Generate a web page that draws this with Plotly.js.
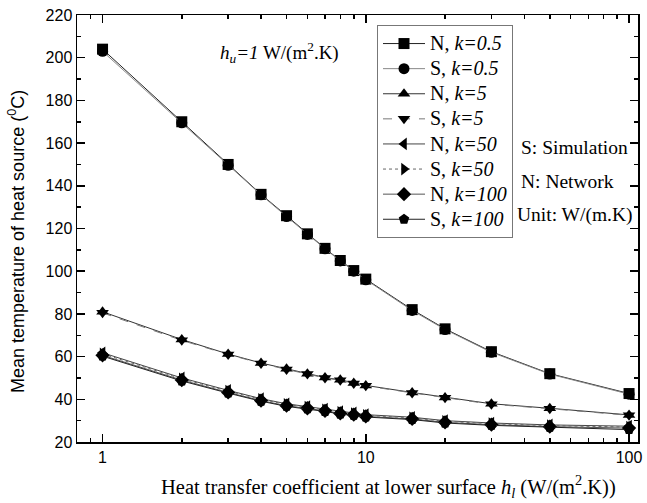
<!DOCTYPE html>
<html><head><meta charset="utf-8">
<script src="https://cdn.plot.ly/plotly-3.0.1.min.js"></script>
<style>html,body{margin:0;padding:0;background:#fff}#chart{width:647px;height:503px}</style>
</head><body><div id="chart"></div>
<script>
const hl = [1,2,3,4,5,6,7,8,9,10,15,20,30,50,100];
const N_k05 = [204,170,150,136,126,117.5,110.7,105,100.3,96.3,82,73,62.3,52,42.7];
const S_k05 = [203,169.5,149.6,135.8,125.6,117.2,110.5,104.8,100,96,81.6,72.7,62,51.8,42.4];
const N_k5 = [81,68,61.2,57,54.3,52,50.2,49.1,47.6,46.5,43.2,40.9,37.9,35.8,32.7];
const S_k5 = [80.5,67.6,61,56.8,54,51.8,50,48.9,47.4,46.3,43,40.7,37.7,35.6,32.5];
const N_k50 = [61.8,50,44.2,40.3,37.9,36.6,35.4,34.2,33.6,32.8,31.6,30,28.9,28,27.4];
const S_k50 = [61.3,49.6,43.8,40,37.6,36.3,35.1,33.9,33.3,32.5,31.3,29.7,28.6,27.7,27.0];
const N_k100 = [60.6,49,43.2,39.4,37,35.8,34.6,33.4,32.8,32,30.8,29.2,28.1,27.2,26.5];
const S_k100 = [60.2,48.6,42.9,39.1,36.7,35.5,34.3,33.1,32.5,31.7,30.5,28.9,27.8,26.9,25.8];
const names = ['N, <i>k=0.5</i>','S, <i>k=0.5</i>','N, <i>k=5</i>','S, <i>k=5</i>','N, <i>k=50</i>','S, <i>k=50</i>','N, <i>k=100</i>','S, <i>k=100</i>'];
const series = [N_k05,S_k05,N_k5,S_k5,N_k50,S_k50,N_k100,S_k100];
const symbols = ['square','circle','triangle-up','triangle-down','triangle-left','triangle-right','diamond','pentagon'];
const lineColors = ['#222','#888','#333','#777','#444','#666','#555','#222'];
const dashes = ['solid','solid','solid','dash','solid','dot','solid','solid'];
const xTickVals = [1,10,100];
const xTickText = ['1','10','100'];
const xMinor = [0.8,0.9,2,3,4,5,6,7,8,9,20,30,40,50,60,70,80,90];

const traces = series.map((ys,i)=>({
  x: hl, y: ys, type:'scatter', mode:'lines+markers',
  name: '<span style="font-size:20px">' + names[i] + '</span>',
  line:{color:lineColors[i], width:1, dash:dashes[i]},
  marker:{symbol:symbols[i], size:11, color:'#000'}
}));

const serif = 'Liberation Serif, Times New Roman, serif';
const sans = 'Liberation Sans, Arial, sans-serif';
const L = 77, R = 638, T = 15, B = 442;
const px = v => (v - L) / (R - L);
const py = v => (B - v) / (B - T);
const layout = {
  width:647, height:503,
  margin:{l:L, r:647-R, t:T, b:503-B},
  paper_bgcolor:'#fff', plot_bgcolor:'#fff',
  showlegend:true,
  legend:{x:px(377), y:py(25), xanchor:'left', yanchor:'top', bgcolor:'rgba(255,255,255,0)',
    bordercolor:'#777', borderwidth:1, font:{family:serif, size:17, color:'#000'}, itemwidth:42,
    tracegroupgap:0},
  xaxis:{type:'log', range:[-0.097,2.034], tickmode:'array', tickvals:xTickVals, ticktext:xTickText,
    ticks:'inside', ticklen:8, tickwidth:1.5, tickcolor:'#000', showline:true, linecolor:'#000', linewidth:1.5,
    mirror:'ticks', showgrid:false, zeroline:false,
    tickfont:{family:sans, size:16, color:'#000'},
    minor:{tickmode:'array', tickvals:xMinor, ticks:'inside', ticklen:4, tickwidth:1.5, tickcolor:'#000', showgrid:false}},
  yaxis:{range:[20,220], dtick:20, tick0:20,
    ticks:'inside', ticklen:8, tickwidth:1.5, tickcolor:'#000', showline:true, linecolor:'#000', linewidth:1.5,
    mirror:'ticks', showgrid:false, zeroline:false,
    tickfont:{family:sans, size:16, color:'#000'},
    minor:{dtick:10, ticks:'inside', ticklen:4, tickwidth:1.5, tickcolor:'#000', showgrid:false}},
  annotations:[
    {xref:'paper', yref:'paper', x:px(388), y:py(487), xanchor:'center', yanchor:'middle', showarrow:false,
     text:'Heat transfer coefficient at lower surface <i>h<sub>l</sub></i> (W/(m<sup>2</sup>.K))', font:{family:serif, size:20.5, color:'#000'}},
    {xref:'paper', yref:'paper', x:px(17), y:py(242), xanchor:'center', yanchor:'middle', showarrow:false, textangle:-90,
     text:'Mean temperature of heat source (<sup>0</sup>C)', font:{family:sans, size:18, color:'#000'}},
    {xref:'paper', yref:'paper', x:px(218), y:py(53), xanchor:'left', yanchor:'middle', showarrow:false,
     text:'<i>h<sub>u</sub>=1</i> W/(m<sup>2</sup>.K)', font:{family:serif, size:19, color:'#000'}},
    {xref:'paper', yref:'paper', x:px(519), y:py(147), xanchor:'left', yanchor:'middle', showarrow:false,
     text:'S: Simulation', font:{family:serif, size:19.5, color:'#000'}},
    {xref:'paper', yref:'paper', x:px(519), y:py(181), xanchor:'left', yanchor:'middle', showarrow:false,
     text:'N: Network', font:{family:serif, size:19.5, color:'#000'}},
    {xref:'paper', yref:'paper', x:px(515), y:py(215), xanchor:'left', yanchor:'middle', showarrow:false,
     text:'Unit: W/(m.K)', font:{family:serif, size:19.5, color:'#000'}}
  ]
};
Plotly.newPlot('chart', traces, layout, {displayModeBar:false, staticPlot:true});
</script></body></html>
